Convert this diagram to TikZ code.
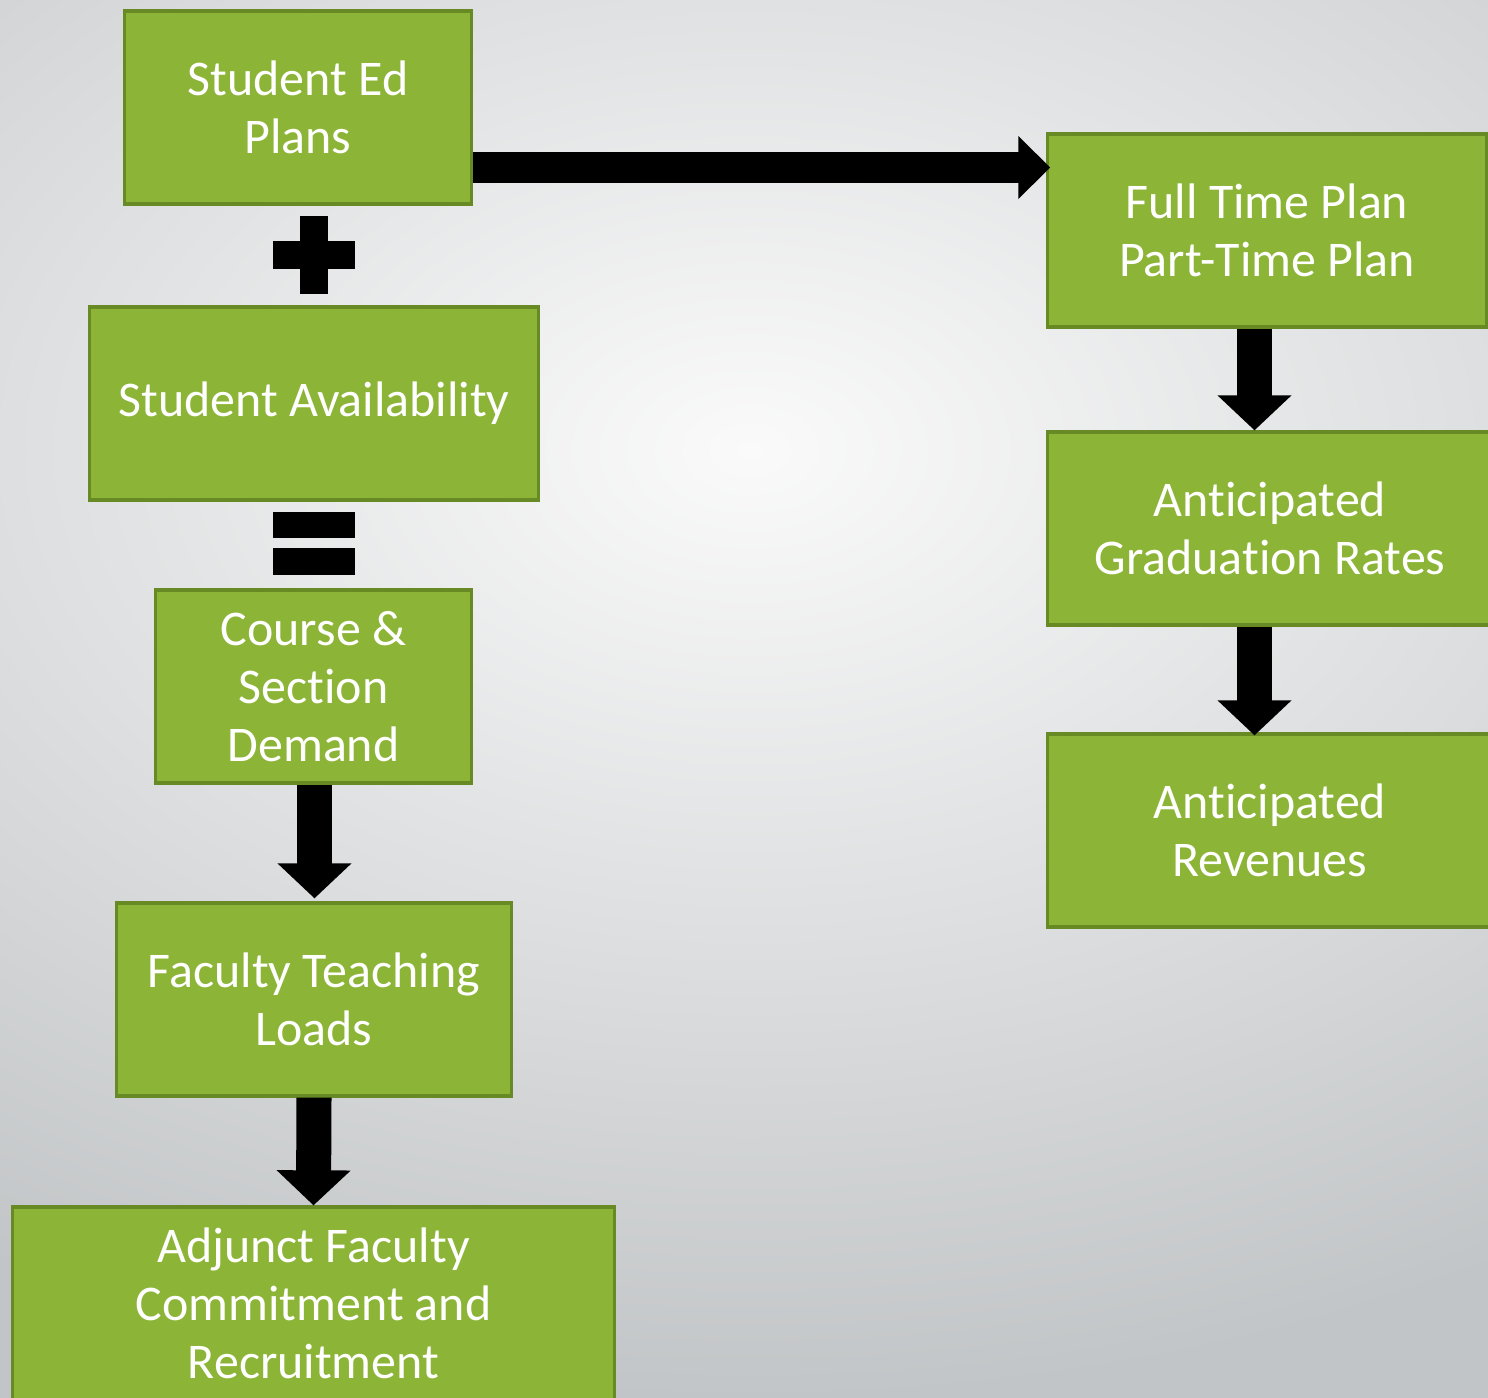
\documentclass[tikz,border=0pt]{standalone}
\usepackage{fontspec}
\setmainfont[Ligatures={NoCommon}]{Carlito}
\usepackage{tikz}
\usetikzlibrary{arrows.meta}
\definecolor{boxgreen}{RGB}{140,180,54}
\definecolor{boxedge}{RGB}{104,138,36}
\definecolor{bginner}{RGB}{250,250,250}
\definecolor{bgouter}{RGB}{194,197,199}
\tikzset{
  stepnode/.style = {rectangle, draw=boxedge, fill=boxgreen, line width=0.9pt,
    align=center, inner sep=0pt, text=white, minimum height=1.93cm,
    font=\fontsize{14.2}{16.5}\selectfont},
  flow/.style = {line width=0.35cm, -{Triangle[length=0.35cm,width=0.72cm]}},
  flowh/.style = {line width=0.31cm, -{Triangle[length=0.32cm,width=0.61cm]}}
}

\begin{document}
\begin{tikzpicture}[x=0.01cm,y=-0.01cm]
    \useasboundingbox (0,0) rectangle (1488,1398);
    \clip (0,0) rectangle (1488,1398);
    \shade[inner color=bginner, outer color=bgouter] (-700,-500) rectangle (2200,1400);

    % left column
    \node[stepnode, minimum width=3.46cm] (plans) at (298,107.5) {Student Ed\\Plans};
    \node[stepnode, minimum width=4.48cm] (avail) at (314,403.5) {Student Availability};
    \node[stepnode, minimum width=3.15cm] (demand) at (313.5,686.5) {Course \&\\Section\\Demand};
    \node[stepnode, minimum width=3.94cm] (loads) at (314,999.5) {Faculty Teaching\\Loads};
    \node[stepnode, minimum width=6.01cm] (adjunct) at (313.5,1303.5) {Adjunct Faculty\\Commitment and\\Recruitment};

    % right column
    \node[stepnode, minimum width=4.38cm] (plantype) at (1267,230.5) {Full Time Plan\\Part-Time Plan};
    \node[stepnode, minimum width=4.44cm] (gradrates) at (1270,528.5) {Anticipated\\Graduation Rates};
    \node[stepnode, minimum width=4.44cm] (revenues) at (1270,830.5) {Anticipated\\Revenues};

    % plus and equals
    \coordinate (plus) at (314,255);
    \fill (plus) ++(-14,-39) rectangle ++(28,78);
    \fill (plus) ++(-41,-14) rectangle ++(82,28);
    \coordinate (equals) at (314,543.5);
    \fill (equals) ++(-41,-31.5) rectangle ++(82,26);
    \fill (equals) ++(-41,4.5) rectangle ++(82,27);

    % arrows
    \draw[flowh] ([yshift=-0.6cm]plans.east) coordinate (a) -- ([xshift=0.04cm]a -| plantype.west);
    \draw[flow] ([xshift=-0.125cm]plantype.south) coordinate (b) -- (b |- gradrates.north);
    \draw[flow] ([xshift=-0.155cm]gradrates.south) coordinate (c) -- ([yshift=-0.03cm]c |- revenues.north);
    \draw[flow] ([xshift=0.01cm]demand.south) coordinate (d) -- ([yshift=0.03cm]d |- loads.north);
    \draw[flow] (loads.south) -- (adjunct.north);
\end{tikzpicture}
\end{document}
